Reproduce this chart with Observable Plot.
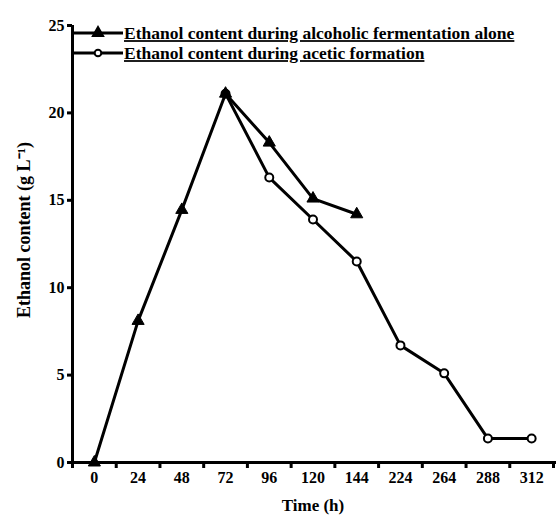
<!DOCTYPE html>
<html>
<head>
<meta charset="utf-8">
<script src="https://cdn.jsdelivr.net/npm/d3@7"></script>
<script src="https://cdn.jsdelivr.net/npm/@observablehq/plot@0.6"></script>
<style>
  html, body { margin: 0; padding: 0; background: #fff; }
  svg text { font-family: "Liberation Serif", "Times New Roman", serif; font-weight: bold; }
</style>
</head>
<body>
<div id="chart"></div>
<script>
// Tick labels (categorical time points, hours)
const hours = ["0", "24", "48", "72", "96", "120", "144", "224", "264", "288", "312"];

// Series 1: alcoholic fermentation alone
const aloneHours = ["0", "24", "48", "72", "96", "120", "144"];
const aloneValues = [0, 8.1, 14.45, 21.1, 18.3, 15.1, 14.2];

// Series 2: during acetic formation
const aceticHours = ["72", "96", "120", "144", "224", "264", "288", "312"];
const aceticValues = [21.1, 16.3, 13.9, 11.5, 6.7, 5.1, 1.37, 1.37];

const seriesNames = [
  "Ethanol content during alcoholic fermentation alone",
  "Ethanol content during acetic formation"
];

const yTicks = [0, 5, 10, 15, 20, 25];
const yLabel = "Ethanol content (g L\u207B\u00B9)";
const xLabel = "Time (h)";

const alone = aloneHours.map((h, i) => ({idx: hours.indexOf(h), value: aloneValues[i]}));
const acetic = aceticHours.map((h, i) => ({idx: hours.indexOf(h), value: aceticValues[i]}));

const chart = Plot.plot({
  width: 556,
  height: 519,
  marginLeft: 72,
  marginTop: 25,
  marginBottom: 57,
  marginRight: 3,
  style: {fontFamily: "Liberation Serif", fontSize: "16px", fontWeight: "bold", color: "black", background: "white"},
  x: {type: "linear", domain: [-0.5, hours.length - 0.5]},
  y: {domain: [0, 25]},
  marks: [
    Plot.axisY({ticks: yTicks, tickSize: 5, tickPadding: 3, strokeWidth: 3, fontSize: 16, fontWeight: "bold", label: null}),
    Plot.axisX({ticks: d3.range(-0.5, hours.length, 1), tickFormat: () => "", tickSize: 6, strokeWidth: 3, label: null}),
    Plot.axisX({ticks: d3.range(hours.length), tickSize: 0, tickPadding: 9, tickFormat: i => hours[i], fontSize: 16, fontWeight: "bold", label: null}),
    Plot.ruleX([-0.5], {strokeWidth: 3}),
    Plot.ruleY([0], {strokeWidth: 3, x1: -0.5, x2: hours.length - 0.4}),
    Plot.line(acetic, {x: "idx", y: "value", stroke: "black", strokeWidth: 3}),
    Plot.line(alone, {x: "idx", y: "value", stroke: "black", strokeWidth: 3}),
    Plot.dot(acetic, {x: "idx", y: "value", r: 4, fill: "white", stroke: "black", strokeWidth: 2}),
    Plot.dot(alone, {x: "idx", y: "value", symbol: "triangle", r: 4.5, fill: "black", stroke: "black", strokeWidth: 1})
  ]
});

const svg = d3.select(chart);

// Axis titles
svg.append("text").attr("transform", "translate(24,230) rotate(-90)")
  .attr("text-anchor", "middle").attr("dy", "0.35em")
  .attr("font-family", "Liberation Serif").attr("font-weight", "bold").attr("font-size", 18)
  .text(yLabel);
svg.append("text").attr("x", 313).attr("y", 505)
  .attr("text-anchor", "middle").attr("dy", "0.35em")
  .attr("font-family", "Liberation Serif").attr("font-weight", "bold").attr("font-size", 17)
  .text(xLabel);

// Legend inside the plot area (top-left)
const legend = svg.append("g").attr("font-family", "Liberation Serif").attr("font-weight", "bold")
  .attr("font-size", 17.5).attr("text-anchor", "start");
const rows = [
  {name: seriesNames[0], symbol: d3.symbolTriangle, fill: "black", y: 33},
  {name: seriesNames[1], symbol: d3.symbolCircle, fill: "white", y: 53}
];
rows.forEach(r => {
  legend.append("line").attr("x1", 73).attr("x2", 123).attr("y1", r.y).attr("y2", r.y)
    .attr("stroke", "black").attr("stroke-width", 3);
  legend.append("path").attr("d", d3.symbol(r.symbol, r.symbol === d3.symbolCircle ? 35 : 45)())
    .attr("transform", `translate(98,${r.y})`)
    .attr("fill", r.fill).attr("stroke", "black").attr("stroke-width", 2);
  legend.append("text").attr("x", 124).attr("y", r.y).attr("dy", "0.35em").text(r.name)
    .attr("text-anchor", "start").attr("text-decoration", "underline");
});

document.getElementById("chart").appendChild(chart);
</script>
</body>
</html>
